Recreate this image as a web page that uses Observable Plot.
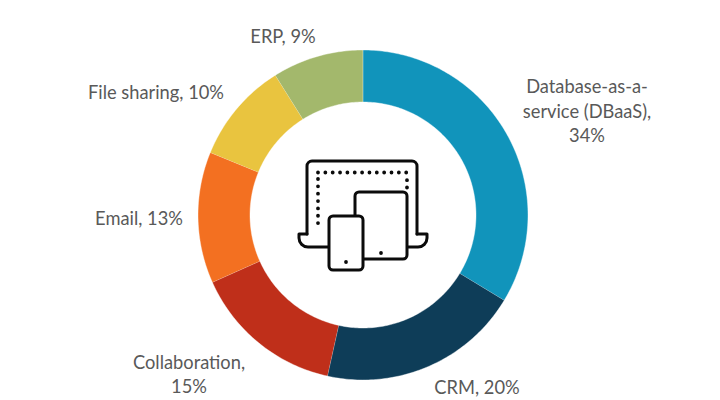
<!DOCTYPE html>
<html>
<head>
<meta charset="utf-8">
<style>html,body{margin:0;padding:0;background:#fff}</style>
<script src="https://cdn.jsdelivr.net/npm/d3@7"></script>
<script src="https://cdn.jsdelivr.net/npm/@observablehq/plot@0.6"></script>
</head>
<body>
<div id="chart"></div>
<script>
// Data
const categories = ["Database-as-a-service (DBaaS)", "CRM", "Collaboration", "Email", "File sharing", "ERP"];
const shares = [34, 20, 15, 13, 10, 9];
const labels = ["Database-as-a-\nservice (DBaaS),\n34%", "CRM, 20%", "Collaboration,\n15%", "Email, 13%", "File sharing, 10%", "ERP, 9%"];
const colors = ["#1194bb", "#0e3d58", "#bf2f1a", "#f37021", "#e9c43f", "#a3b86c"];

// Layout
const centerX = 362.5, centerY = 214.5, outerR = 165, innerR = 113;
const labelDx = [224, 114, -174, -224, -207, -80];
const labelDy = [-105, 171, 158, 2, -124, -180];

const arcs = d3.pie().sort(null)(shares);
const ring = arcs.flatMap((a, i) => {
  const n = Math.ceil((a.endAngle - a.startAngle) * 60);
  const angles = d3.range(n + 1).map(k => a.startAngle + (a.endAngle - a.startAngle) * k / n);
  const pt = (t, r) => ({category: categories[i], x: r * Math.sin(t), y: -r * Math.cos(t)});
  return [...angles.map(t => pt(t, outerR)), ...angles.reverse().map(t => pt(t, innerR))];
});
const labelRows = categories.map((c, i) => ({category: c, label: labels[i], x: labelDx[i], y: labelDy[i]}));

function icon() {
  const g = d3.create("svg:g").attr("fill", "none").attr("stroke", "#0b0b0b").attr("stroke-width", 3).attr("stroke-linejoin", "round").attr("stroke-linecap", "round");
  const rr = (x, y, w, h, r) => g.append("rect").attr("x", x).attr("y", y).attr("width", w).attr("height", h).attr("rx", r).attr("fill", "#fff");
  g.append("path").attr("d", "M307 234V166a5 5 0 0 1 5-5H412a5 5 0 0 1 5 5V234");
  g.append("path").attr("d", "M307 234H299V238a9 9 0 0 0 9 9H418a9 9 0 0 0 9-9V234H417");
  g.append("path").attr("d", "M318 172.5H407M407 187.5V178M318 179V224").attr("stroke-width", 3.8).attr("stroke-dasharray", "0 7.35");
  rr(355, 192, 52, 67, 4);
  rr(329, 216, 34, 54, 4);
  g.append("circle").attr("cx", 381).attr("cy", 253).attr("r", 1.9).attr("fill", "#0b0b0b").attr("stroke", "none");
  g.append("circle").attr("cx", 346).attr("cy", 262).attr("r", 1.9).attr("fill", "#0b0b0b").attr("stroke", "none");
  return g.node();
}

const chart = Plot.plot({
  width: 720,
  height: 400,
  margin: 0,
  style: {background: "#fff", fontFamily: "Lato, sans-serif"},
  x: {axis: null, domain: [-centerX, 720 - centerX], range: [0, 720]},
  y: {axis: null, domain: [-centerY, 400 - centerY], range: [0, 400]},
  color: {domain: categories, range: colors},
  marks: [
    Plot.line(ring, {x: "x", y: "y", z: "category", fill: "category", stroke: "#fff", strokeWidth: 0.4, curve: "linear"}),
    icon,
    Plot.text(labelRows, {x: "x", y: "y", text: "label", fontSize: 18.3, lineHeight: 1.34, fill: "#595959", textAnchor: "middle", lineAnchor: "middle"})
  ]
});
document.getElementById("chart").appendChild(chart);
</script>
</body>
</html>
